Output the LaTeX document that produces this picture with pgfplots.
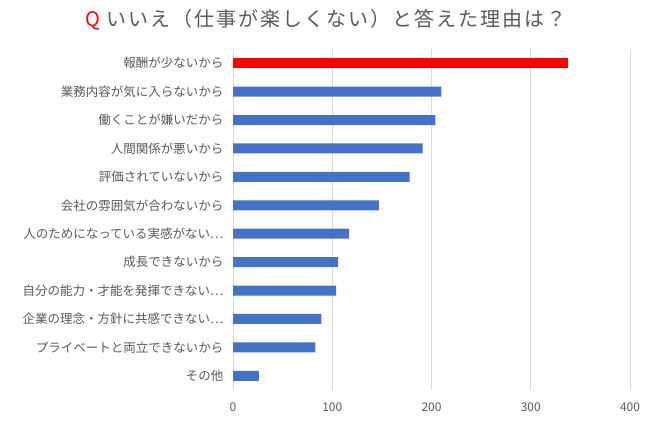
\documentclass[border=0pt]{standalone}
\usepackage{pgfplots}
\pgfplotsset{compat=1.18}
\usepackage{fontspec}
\setmainfont{Noto Sans CJK JP}
\definecolor{barblue}{HTML}{4472C4}
\definecolor{txtgray}{HTML}{595959}
\definecolor{gridgray}{HTML}{D9D9D9}
\begin{document}
\begin{tikzpicture}[x=1pt,y=1pt]
\path[use as bounding box] (0,0) rectangle (650,422);
\node[font=\fontsize{20}{22}\selectfont\addfontfeature{LetterSpace=10}, text=txtgray] at (326,402) {\textcolor{red}{Q} いいえ（仕事が楽しくない）と答えた理由は？};
\begin{axis}[
  at={(233pt,32pt)}, anchor=south west,
  scale only axis, width=397pt, height=341pt,
  xbar, bar width=10pt, bar shift=0pt,
  xmin=0, xmax=400,
  ymin=-0.5, ymax=11.5, y dir=reverse,
  xtick={0,100,200,300,400},
  ytick={0,...,11},
  yticklabels={報酬が少ないから,業務内容が気に入らないから,働くことが嫌いだから,人間関係が悪いから,評価されていないから,会社の雰囲気が合わないから,人のためになっている実感がない⋯,成長できないから,自分の能力・才能を発揮できない⋯,企業の理念・方針に共感できない⋯,プライベートと両立できないから,その他},
  xmajorgrids, major grid style={gridgray, line width=0.8pt},
  axis x line*=bottom, axis y line*=left,
  x axis line style={draw=none},
  y axis line style={gridgray, line width=0.8pt},
  major tick length=0pt,
  tick label style={text=txtgray},
  yticklabel style={font=\fontsize{12.5}{14}\selectfont, xshift=-6pt},
  xticklabel style={font=\fontsize{12}{14}\selectfont, yshift=-9pt},
  /pgf/number format/assume math mode=true,
]
\addplot[draw=none, fill=red] coordinates {(338,0)};
\addplot[draw=none, fill=barblue] coordinates {
(210,1) (204,2) (191,3) (178,4) (147,5) (117,6) (106,7) (104,8) (89,9) (83,10) (26,11)};
\end{axis}
\end{tikzpicture}
\end{document}
